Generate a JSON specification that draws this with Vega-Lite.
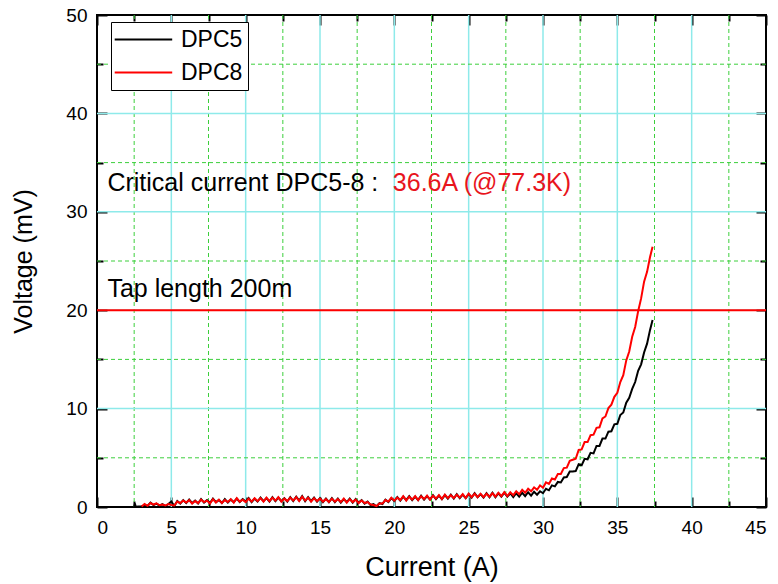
{
"$schema": "https://vega.github.io/schema/vega-lite/v6.json",
"width": 669, "height": 492,
"autosize": {"type": "none"},
"padding": {"left": 97, "top": 15, "right": 12, "bottom": 77},
"background": "white",
"config": {
  "view": {"stroke": "black", "strokeWidth": 2, "fill": "white"},
  "font": "Liberation Sans",
  "axis": {"domain": false, "grid": false, "labelFont": "Liberation Sans", "titleFont": "Liberation Sans", "tickColor": "black", "tickWidth": 2, "labelColor": "black", "titleColor": "black", "titleFontWeight": "normal", "labelFontSize": 19}
},
"datasets": {
"curves": [
{"I":2.5,"DPC5":0.0},{"I":2.55,"DPC5":0.35},{"I":2.6,"DPC5":0.02},{"I":2.8,"DPC5":0.05},
{"I":3.0,"DPC5":0.08,"DPC8":0.05},{"I":3.2,"DPC5":0.15,"DPC8":0.3},{"I":3.4,"DPC5":0.1,"DPC8":0.12},{"I":3.6,"DPC5":0.45,"DPC8":0.4},{"I":3.8,"DPC5":0.2,"DPC8":0.25},
{"I":4.0,"DPC5":0.35,"DPC8":0.38},{"I":4.2,"DPC5":0.15,"DPC8":0.18},{"I":4.4,"DPC5":0.3,"DPC8":0.25},{"I":4.6,"DPC5":0.1,"DPC8":0.15},{"I":4.8,"DPC5":0.3,"DPC8":0.3},
{"I":5.0,"DPC5":0.55,"DPC8":0.2},{"I":5.2,"DPC5":0.1,"DPC8":0.15},{"I":5.4,"DPC5":0.6,"DPC8":0.55},{"I":5.6,"DPC5":0.35,"DPC8":0.4},{"I":5.8,"DPC5":0.7,"DPC8":0.65},
{"I":6.0,"DPC5":0.4,"DPC8":0.45},{"I":6.2,"DPC5":0.75,"DPC8":0.7},{"I":6.4,"DPC5":0.4,"DPC8":0.35},{"I":6.6,"DPC5":0.65,"DPC8":0.6},{"I":6.8,"DPC5":0.35,"DPC8":0.4},
{"I":7.0,"DPC5":0.8,"DPC8":0.75},{"I":7.2,"DPC5":0.45,"DPC8":0.5},{"I":7.4,"DPC5":0.7,"DPC8":0.65},{"I":7.6,"DPC5":0.4,"DPC8":0.35},{"I":7.8,"DPC5":0.85,"DPC8":0.8},
{"I":8.0,"DPC5":0.5,"DPC8":0.45},{"I":8.2,"DPC5":0.7,"DPC8":0.75},{"I":8.4,"DPC5":0.4,"DPC8":0.4},{"I":8.6,"DPC5":0.8,"DPC8":0.7},{"I":8.8,"DPC5":0.45,"DPC8":0.5},
{"I":9.0,"DPC5":0.75,"DPC8":0.8},{"I":9.2,"DPC5":0.5,"DPC8":0.45},{"I":9.4,"DPC5":0.85,"DPC8":0.9},{"I":9.6,"DPC5":0.5,"DPC8":0.55},{"I":9.8,"DPC5":0.8,"DPC8":0.75},
{"I":10.0,"DPC5":0.55,"DPC8":0.5},{"I":10.2,"DPC5":0.9,"DPC8":0.85},{"I":10.4,"DPC5":0.5,"DPC8":0.55},{"I":10.6,"DPC5":0.85,"DPC8":0.9},{"I":10.8,"DPC5":0.55,"DPC8":0.6},
{"I":11.0,"DPC5":0.95,"DPC8":0.9},{"I":11.2,"DPC5":0.6,"DPC8":0.55},{"I":11.4,"DPC5":0.9,"DPC8":0.95},{"I":11.6,"DPC5":0.55,"DPC8":0.6},{"I":11.8,"DPC5":1.0,"DPC8":0.95},
{"I":12.0,"DPC5":0.6,"DPC8":0.65},{"I":12.2,"DPC5":0.95,"DPC8":1.0},{"I":12.4,"DPC5":0.6,"DPC8":0.55},{"I":12.6,"DPC5":0.9,"DPC8":0.85},{"I":12.8,"DPC5":0.55,"DPC8":0.6},
{"I":13.0,"DPC5":1.0,"DPC8":0.95},{"I":13.2,"DPC5":0.6,"DPC8":0.65},{"I":13.4,"DPC5":1.05,"DPC8":1.0},{"I":13.6,"DPC5":0.65,"DPC8":0.6},{"I":13.8,"DPC5":1.1,"DPC8":1.05},
{"I":14.0,"DPC5":0.6,"DPC8":0.65},{"I":14.2,"DPC5":1.0,"DPC8":0.95},{"I":14.4,"DPC5":0.6,"DPC8":0.55},{"I":14.6,"DPC5":0.95,"DPC8":0.9},{"I":14.8,"DPC5":0.55,"DPC8":0.6},
{"I":15.0,"DPC5":0.9,"DPC8":0.85},{"I":15.2,"DPC5":0.5,"DPC8":0.55},{"I":15.4,"DPC5":0.85,"DPC8":0.8},{"I":15.6,"DPC5":0.5,"DPC8":0.5},{"I":15.8,"DPC5":0.9,"DPC8":0.85},
{"I":16.0,"DPC5":0.5,"DPC8":0.55},{"I":16.2,"DPC5":0.85,"DPC8":0.8},{"I":16.4,"DPC5":0.45,"DPC8":0.5},{"I":16.6,"DPC5":0.8,"DPC8":0.85},{"I":16.8,"DPC5":0.5,"DPC8":0.45},
{"I":17.0,"DPC5":0.85,"DPC8":0.8},{"I":17.2,"DPC5":0.45,"DPC8":0.5},{"I":17.4,"DPC5":0.8,"DPC8":0.75},{"I":17.6,"DPC5":0.45,"DPC8":0.4},{"I":17.8,"DPC5":0.7,"DPC8":0.65},
{"I":18.0,"DPC5":0.35,"DPC8":0.4},{"I":18.2,"DPC5":0.55,"DPC8":0.5},{"I":18.4,"DPC5":0.2,"DPC8":0.25},{"I":18.6,"DPC5":0.3,"DPC8":0.2},{"I":18.8,"DPC5":0.05,"DPC8":0.1},
{"I":19.0,"DPC5":0.4,"DPC8":0.35},{"I":19.2,"DPC5":0.3,"DPC8":0.35},{"I":19.4,"DPC5":0.75,"DPC8":0.7},{"I":19.6,"DPC5":0.5,"DPC8":0.55},{"I":19.8,"DPC5":0.9,"DPC8":0.95},
{"I":20.0,"DPC5":0.6,"DPC8":0.65},{"I":20.2,"DPC5":1.0,"DPC8":0.95},{"I":20.4,"DPC5":0.65,"DPC8":0.7},{"I":20.6,"DPC5":1.05,"DPC8":1.1},{"I":20.8,"DPC5":0.7,"DPC8":0.65},
{"I":21.0,"DPC5":1.1,"DPC8":1.05},{"I":21.2,"DPC5":0.7,"DPC8":0.75},{"I":21.4,"DPC5":1.05,"DPC8":1.1},{"I":21.6,"DPC5":0.7,"DPC8":0.7},{"I":21.8,"DPC5":1.15,"DPC8":1.1},
{"I":22.0,"DPC5":0.75,"DPC8":0.8},{"I":22.2,"DPC5":1.1,"DPC8":1.15},{"I":22.4,"DPC5":0.75,"DPC8":0.75},{"I":22.6,"DPC5":1.2,"DPC8":1.15},{"I":22.8,"DPC5":0.8,"DPC8":0.85},
{"I":23.0,"DPC5":1.15,"DPC8":1.2},{"I":23.2,"DPC5":0.8,"DPC8":0.8},{"I":23.4,"DPC5":1.2,"DPC8":1.25},{"I":23.6,"DPC5":0.85,"DPC8":0.9},{"I":23.8,"DPC5":1.25,"DPC8":1.2},
{"I":24.0,"DPC5":0.85,"DPC8":0.9},{"I":24.2,"DPC5":1.3,"DPC8":1.25},{"I":24.4,"DPC5":0.9,"DPC8":0.95},{"I":24.6,"DPC5":1.25,"DPC8":1.3},{"I":24.8,"DPC5":0.9,"DPC8":0.9},
{"I":25.0,"DPC5":1.3,"DPC8":1.35},{"I":25.2,"DPC5":0.95,"DPC8":1.0},{"I":25.4,"DPC5":1.4,"DPC8":1.35},{"I":25.6,"DPC5":1.0,"DPC8":1.0},{"I":25.8,"DPC5":1.3,"DPC8":1.35},
{"I":26.0,"DPC5":0.95,"DPC8":1.0},{"I":26.2,"DPC5":1.4,"DPC8":1.35},{"I":26.4,"DPC5":1.0,"DPC8":1.05},{"I":26.6,"DPC5":1.45,"DPC8":1.4},{"I":26.8,"DPC5":1.0,"DPC8":1.05},
{"I":27.0,"DPC5":1.4,"DPC8":1.45},{"I":27.2,"DPC5":1.05,"DPC8":1.1},{"I":27.4,"DPC5":1.45,"DPC8":1.5},{"I":27.6,"DPC5":1.05,"DPC8":1.1},{"I":27.8,"DPC5":1.4,"DPC8":1.5},
{"I":28.0,"DPC5":1.0,"DPC8":1.2},{"I":28.2,"DPC5":1.4,"DPC8":1.6},{"I":28.4,"DPC5":1.05,"DPC8":1.3},{"I":28.6,"DPC5":1.45,"DPC8":1.75},{"I":28.8,"DPC5":1.1,"DPC8":1.45},
{"I":29.0,"DPC5":1.5,"DPC8":1.85},{"I":29.2,"DPC5":1.15,"DPC8":1.6},{"I":29.4,"DPC5":1.55,"DPC8":2.0},{"I":29.6,"DPC5":1.25,"DPC8":1.75},{"I":29.8,"DPC5":1.6,"DPC8":2.2},
{"I":30.0,"DPC5":1.4,"DPC8":1.95},{"I":30.2,"DPC5":1.85,"DPC8":2.5},{"I":30.4,"DPC5":1.7,"DPC8":2.35},{"I":30.6,"DPC5":2.2,"DPC8":2.9},{"I":30.8,"DPC5":2.1,"DPC8":2.8},
{"I":31.0,"DPC5":2.55,"DPC8":3.35},{"I":31.2,"DPC5":2.5,"DPC8":3.35},{"I":31.4,"DPC5":3.0,"DPC8":3.95},{"I":31.6,"DPC5":3.05,"DPC8":4.0},{"I":31.8,"DPC5":3.6,"DPC8":4.7},
{"I":32.0,"DPC5":3.6,"DPC8":4.8},{"I":32.2,"DPC5":3.65,"DPC8":4.9},{"I":32.4,"DPC5":4.35,"DPC8":5.8},{"I":32.6,"DPC5":4.25,"DPC8":5.85},{"I":32.8,"DPC5":4.9,"DPC8":6.6},
{"I":33.0,"DPC5":4.85,"DPC8":6.6},{"I":33.2,"DPC5":5.5,"DPC8":7.3},{"I":33.4,"DPC5":5.45,"DPC8":7.35},{"I":33.6,"DPC5":6.2,"DPC8":8.05},{"I":33.8,"DPC5":6.2,"DPC8":8.1},
{"I":34.0,"DPC5":6.95,"DPC8":9.0},{"I":34.2,"DPC5":6.95,"DPC8":9.2},{"I":34.4,"DPC5":7.65,"DPC8":10.05},{"I":34.6,"DPC5":7.7,"DPC8":10.4},{"I":34.8,"DPC5":8.4,"DPC8":11.2},
{"I":35.0,"DPC5":8.45,"DPC8":11.6},{"I":35.2,"DPC5":9.35,"DPC8":12.7},{"I":35.4,"DPC5":9.6,"DPC8":13.4},{"I":35.6,"DPC5":10.6,"DPC8":14.9},{"I":35.8,"DPC5":11.1,"DPC8":15.8},
{"I":36.0,"DPC5":12.0,"DPC8":17.3},{"I":36.2,"DPC5":12.7,"DPC8":18.3},{"I":36.4,"DPC5":13.85,"DPC8":19.9},{"I":36.6,"DPC5":14.5,"DPC8":21.2},{"I":36.8,"DPC5":15.7,"DPC8":22.9},
{"I":37.0,"DPC5":16.6,"DPC8":23.9},{"I":37.2,"DPC5":18.0,"DPC8":25.4},{"I":37.37,"DPC5":19.0,"DPC8":26.45}
]
},
"layer": [
  {
    "data": {"values": [{"g":5},{"g":10},{"g":15},{"g":20},{"g":25},{"g":30},{"g":35},{"g":40}]},
    "mark": {"type": "rule", "color": "#8eeaea", "strokeWidth": 1.5},
    "encoding": {"x": {"field": "g", "type": "quantitative", "scale": {"domain": [0, 45], "nice": false},
      "axis": {"orient": "top", "values": [0,5,10,15,20,25,30,35,40,45], "tickSize": -10, "labels": false, "title": null}}}
  },
  {
    "data": {"values": [{"g":2.5},{"g":7.5},{"g":12.5},{"g":17.5},{"g":22.5},{"g":27.5},{"g":32.5},{"g":37.5},{"g":42.5}]},
    "mark": {"type": "rule", "color": "#3ccf3c", "strokeWidth": 1, "strokeDash": [4, 3]},
    "encoding": {"x": {"field": "g", "type": "quantitative", "scale": {"domain": [0, 45], "nice": false},
      "axis": {"orient": "bottom", "values": [2.5,7.5,12.5,17.5,22.5,27.5,32.5,37.5,42.5], "tickSize": -6, "labels": false, "title": null}}}
  },
  {
    "data": {"values": [{"g":10},{"g":20},{"g":30},{"g":40}]},
    "mark": {"type": "rule", "color": "#8eeaea", "strokeWidth": 1.5},
    "encoding": {"y": {"field": "g", "type": "quantitative", "scale": {"domain": [0, 50], "nice": false},
      "axis": {"orient": "right", "values": [0,10,20,30,40,50], "tickSize": -10, "labels": false, "title": null}}}
  },
  {
    "data": {"values": [{"g":5},{"g":15},{"g":25},{"g":35},{"g":45}]},
    "mark": {"type": "rule", "color": "#3ccf3c", "strokeWidth": 1, "strokeDash": [4, 3]},
    "encoding": {"y": {"field": "g", "type": "quantitative", "scale": {"domain": [0, 50], "nice": false},
      "axis": {"orient": "left", "values": [5,15,25,35,45], "tickSize": -6, "labels": false, "title": null}}}
  },
  {
    "data": {"values": [{"v": 20}]},
    "mark": {"type": "rule", "color": "#ff0000", "strokeWidth": 2},
    "encoding": {"y": {"field": "v", "type": "quantitative", "scale": {"domain": [0, 50], "nice": false}, "axis": null}}
  },
  {
    "data": {"name": "curves"},
    "transform": [{"fold": ["DPC5", "DPC8"], "as": ["series", "V"]}, {"filter": "isValid(datum.V)"}],
    "mark": {"type": "line", "strokeWidth": 2},
    "encoding": {
      "x": {"field": "I", "type": "quantitative", "scale": {"domain": [0, 45], "nice": false},
        "axis": {"orient": "bottom", "values": [0,5,10,15,20,25,30,35,40,45], "tickSize": -10, "labelPadding": 21, "title": "Current (A)", "titleFontSize": 27, "titlePadding": 17}},
      "y": {"field": "V", "type": "quantitative", "scale": {"domain": [0, 50], "nice": false},
        "axis": {"orient": "left", "values": [0,10,20,30,40,50], "tickSize": -10, "labelPadding": 20, "title": "Voltage (mV)", "titleFontSize": 25, "titlePadding": 29}},
      "color": {"field": "series", "type": "nominal", "scale": {"domain": ["DPC5", "DPC8"], "range": ["#000000", "#ff0000"]},
        "legend": {"orient": "none", "legendX": 14, "legendY": 7, "title": null, "strokeColor": "black", "fillColor": "white", "padding": 5,
          "symbolType": "M-1.2,0H3.8", "symbolSize": 529, "symbolStrokeWidth": 2, "labelFontSize": 23, "labelFont": "Liberation Sans", "labelColor": "black", "labelOffset": 40, "rowPadding": 8}}
    }
  },
  {
    "data": {"values": [{"x": 0.7, "y": 32.15, "t": "Critical current DPC5-8 : "}]},
    "mark": {"type": "text", "align": "left", "baseline": "alphabetic", "fontSize": 25, "font": "Liberation Sans", "color": "black"},
    "encoding": {
      "x": {"field": "x", "type": "quantitative", "scale": {"domain": [0, 45], "nice": false},
        "axis": {"orient": "top", "values": [2.5,7.5,12.5,17.5,22.5,27.5,32.5,37.5,42.5], "tickSize": -6, "labels": false, "title": null}},
      "y": {"field": "y", "type": "quantitative", "scale": {"domain": [0, 50], "nice": false},
        "axis": {"orient": "right", "values": [5,15,25,35,45], "tickSize": -6, "labels": false, "title": null}},
      "text": {"field": "t"}
    }
  },
  {
    "data": {"values": [{"x": 19.9, "y": 32.15, "t": "36.6A (@77.3K)"}]},
    "mark": {"type": "text", "align": "left", "baseline": "alphabetic", "fontSize": 25, "font": "Liberation Sans", "color": "#e8141c"},
    "encoding": {
      "x": {"field": "x", "type": "quantitative", "scale": {"domain": [0, 45], "nice": false}, "axis": null},
      "y": {"field": "y", "type": "quantitative", "scale": {"domain": [0, 50], "nice": false}, "axis": null},
      "text": {"field": "t"}
    }
  },
  {
    "data": {"values": [{"x": 0.7, "y": 21.37, "t": "Tap length 200m"}]},
    "mark": {"type": "text", "align": "left", "baseline": "alphabetic", "fontSize": 25, "font": "Liberation Sans", "color": "black"},
    "encoding": {
      "x": {"field": "x", "type": "quantitative", "scale": {"domain": [0, 45], "nice": false}, "axis": null},
      "y": {"field": "y", "type": "quantitative", "scale": {"domain": [0, 50], "nice": false}, "axis": null},
      "text": {"field": "t"}
    }
  }
],
"resolve": {"axis": {"x": "independent", "y": "independent"}}
}
